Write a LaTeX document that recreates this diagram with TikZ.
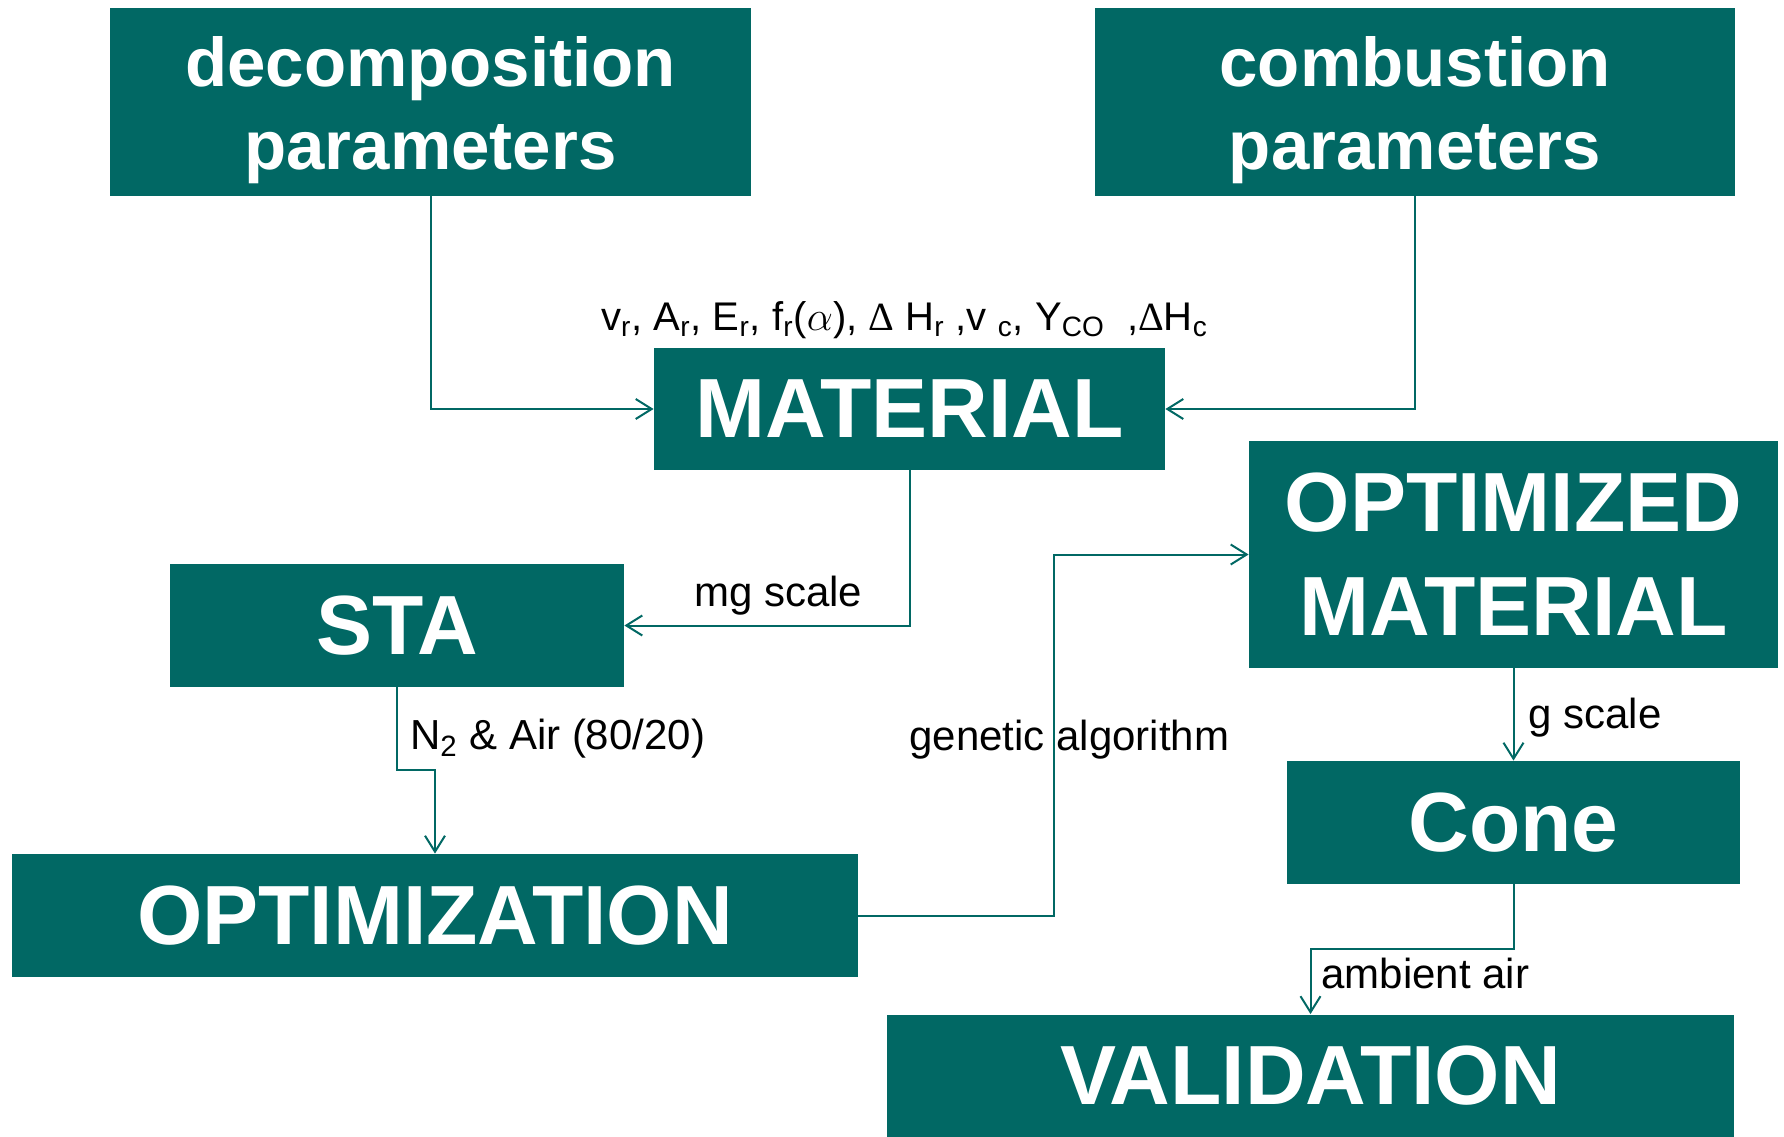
\documentclass[tikz,border=0pt]{standalone}
\usepackage{fontspec}
\setmainfont{Liberation Sans}
\newfontfamily\grk{Liberation Serif}
\usetikzlibrary{arrows.meta}
\definecolor{boxteal}{RGB}{1,104,100}

\begin{document}
\begin{tikzpicture}[x=0.5pt, y=-0.5pt]
    \tikzstyle{box}=[fill=boxteal, text=white, inner sep=0pt, align=center, font=\bfseries\fontsize{42}{51}\selectfont]
    \tikzstyle{parbox}=[box, font=\bfseries\fontsize{34.5}{41.5}\selectfont]
    \tikzstyle{link}=[draw=boxteal, line width=1pt, -{Straight Barb[length=8pt, width=10pt, line width=1pt]}]
    \tikzstyle{lbl}=[text=black, inner sep=2pt, font=\fontsize{21}{25}\selectfont]
    \useasboundingbox (0,0) rectangle (1784,1136);
    \node [parbox, minimum width=320.5pt, minimum height=94pt] (dec) at (430.5,102) {\rule{0pt}{33pt}decomposition\\parameters};
    \node [parbox, minimum width=320pt, minimum height=94pt] (comb) at (1415,102) {\rule{0pt}{33pt}combustion\\parameters};
    \node [box, minimum width=255.5pt, minimum height=61pt] (mat) at (909.5,409) {MATERIAL};
    \node [box, minimum width=264.5pt, minimum height=113.5pt, font=\bfseries\fontsize{42}{52}\selectfont] (om) at (1513.5,554.5) {OPTIMIZED\\MATERIAL};
    \node [box, minimum width=227pt, minimum height=61.5pt] (sta) at (397,625.5) {STA};
    \node [box, minimum width=226.5pt, minimum height=61.5pt] (cone) at (1513.5,822.5) {Cone};
    \node [box, minimum width=423pt, minimum height=61.5pt] (opt) at (435,915.5) {OPTIMIZATION};
    \node [box, minimum width=423.5pt, minimum height=61pt] (val) at (1310.5,1075.5) {VALIDATION};
    \node [lbl, font=\fontsize{20}{24}\selectfont] (par) at (904.5,320) {v\textsubscript{r}, A\textsubscript{r}, E\textsubscript{r}, f\textsubscript{r}($\alpha$), {\grk Δ} H\textsubscript{r} ,v \textsubscript{c}, Y\textsubscript{CO} \ ,{\grk Δ}H\textsubscript{c}};
    % connectors
    \draw [link] (dec.south) |- (mat.west);
    \draw [link] (comb.south) |- (mat.east);
    \draw [link] (mat.south) |- node [lbl, pos=0.73, above=2.5pt] {mg scale} (sta.east);
    \draw [link] (sta.south) -- node [lbl, right=4pt, yshift=-5pt] {N\textsubscript{2} \& Air (80/20)} ++(0,83) -| (opt.north);
    \draw [link] (opt.east) -- ++(196,0) |- node [lbl, pos=0.25, xshift=7.5pt, yshift=-2.3pt] {genetic algorithm} (om.west);
    \draw [link] (om.south) -- node [lbl, right=5pt, yshift=-1.5pt] {g scale} (cone.north);
    \draw [link] (cone.south) -- ++(0,65) -| node [lbl, pos=0.75, right=3pt, yshift=4pt] {ambient air} (val.north);
\end{tikzpicture}
\end{document}
